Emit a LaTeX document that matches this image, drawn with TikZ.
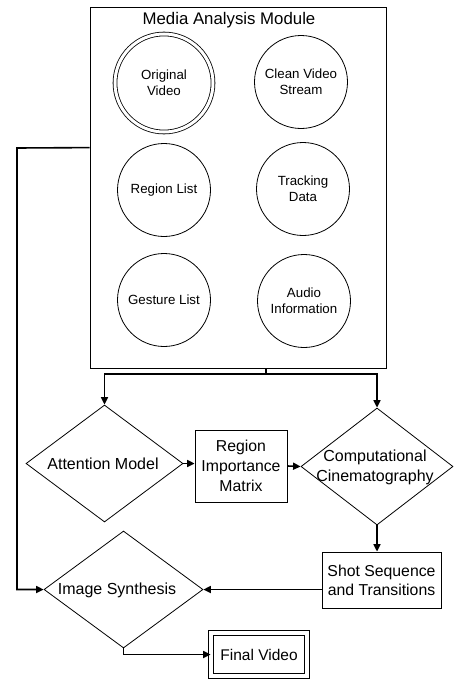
\documentclass[tikz,border=0pt]{standalone}
\usepackage{fontspec}
\setmainfont{Liberation Sans}
\usetikzlibrary{shapes.geometric,arrows.meta,calc}
\begin{document}
\begin{tikzpicture}[x=1pt,y=-1pt,
  shp/.style={draw,line width=0.8pt,inner sep=0pt,align=center},
  circ/.style={shp,circle,minimum size=93pt,font=\fontsize{13.3}{16}\selectfont},
  dia/.style={shp,diamond,font=\fontsize{16}{20}\selectfont},
  box/.style={shp,rectangle,font=\fontsize{15.8}{19}\selectfont},
  lbl/.style={align=center,inner sep=0pt,font=\fontsize{16}{20}\selectfont},
  conn/.style={line width=1.6pt},
  arr/.style={conn,-{Triangle[length=7.5pt,width=7pt]}}]
\useasboundingbox (0,0) rectangle (454,680);
% module
\node[shp,minimum width=296pt,minimum height=361pt] (mam) at (238,187.5) {};
\node[font=\fontsize{16.8}{19}\selectfont] (title) at (229,20) {Media Analysis Module};
\node[circ,minimum size=98pt,double,double distance=3pt] (ov) at (164,83) {Original\\Video};
\node[circ] (cvs) at (301,82) {Clean Video\\Stream};
\node[circ] (rl) at (164,190) {Region List};
\node[circ] (td) at (303,189) {Tracking\\Data};
\node[circ] (gl) at (164,300) {Gesture List};
\node[circ] (ai) at (304,301) {Audio\\Information};
% process
\node[dia,minimum width=157pt,minimum height=117pt] (am) at (104.5,463.5) {};
\node[lbl] (amt) at (103,464) {Attention Model};
\node[box,minimum width=92pt,minimum height=72pt,font=\fontsize{15.8}{20}\selectfont] (rim) at (241,466) {Region\\Importance\\Matrix};
\node[dia,minimum width=152pt,minimum height=117pt] (cc) at (377,466.5) {};
\node[lbl] (cct) at (375,467) {Computational\\Cinematography};
\node[box,minimum width=119pt,minimum height=56pt] (ss) at (381.5,580) {Shot Sequence\\and Transitions};
\node[dia,minimum width=159pt,minimum height=117pt] (is) at (123.5,589.5) {};
\node[lbl] (ist) at (117,590) {Image Synthesis};
\node[box,minimum width=96pt,minimum height=43pt,double,double distance=3.5pt,font=\fontsize{15.5}{19}\selectfont] (fv) at (259,654.5) {Final Video};
% connectors
\coordinate (lc) at (17,148);
\coordinate (split) at (266,374);
\draw[arr] ([yshift=-141pt]mam.north west) -- (lc) |- (is.west);
\draw[conn] ([xshift=28pt]mam.south) -- (split);
\draw[arr] (split) -| (am.north);
\draw[arr] (split) -| (cc.north);
\draw[arr] (am.east) -- (am.east -| rim.west);
\draw[arr] (rim.east) -- (cc.west);
\draw[arr] (cc.south) -- (cc.south |- ss.north);
\draw[arr] (ss.west |- is.east) -- (is.east);
\draw[arr] (is.south) |- (fv.west);
\end{tikzpicture}
\end{document}
